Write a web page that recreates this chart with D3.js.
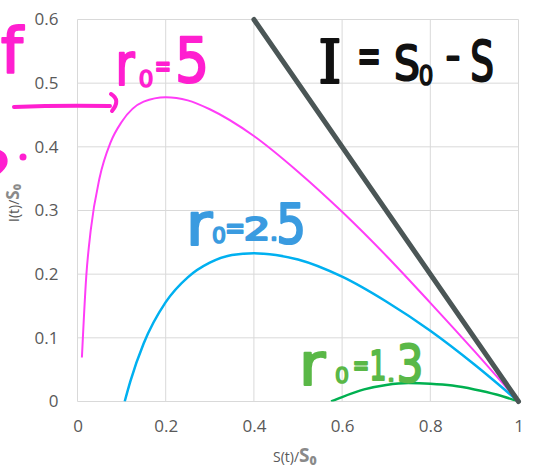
<!DOCTYPE html>
<html>
<head>
<meta charset="utf-8">
<script src="https://cdn.jsdelivr.net/npm/d3@7"></script>
<style>
  body { margin: 0; background: #fff; }
  svg { display: block; }
</style>
</head>
<body>
<div id="chart"></div>
<script>
/* Data: S/S0 against I/S0 */
const r0FiveS = [0.01, 0.02, 0.03, 0.05, 0.075, 0.1, 0.15, 0.2, 0.25, 0.3, 0.4, 0.5, 0.6, 0.7, 0.8, 0.9, 1.0];
const r0FiveI = [0.069, 0.198, 0.269, 0.351, 0.407, 0.439, 0.471, 0.478, 0.473, 0.459, 0.417, 0.361, 0.298, 0.229, 0.155, 0.079, 0];

const r0TwoHalfS = [0.107, 0.12, 0.15, 0.2, 0.25, 0.3, 0.35, 0.4, 0.45, 0.5, 0.6, 0.7, 0.8, 0.9, 1.0];
const r0TwoHalfI = [0, 0.032, 0.091, 0.156, 0.195, 0.218, 0.230, 0.233, 0.230, 0.223, 0.196, 0.157, 0.111, 0.058, 0];

const r0OneThreeS = [0.575, 0.6, 0.65, 0.7, 0.75, 0.8, 0.85, 0.9, 0.95, 1.0];
const r0OneThreeI = [0, 0.007, 0.019, 0.026, 0.029, 0.028, 0.025, 0.019, 0.011, 0];

const lineS = [0.4, 1.0];
const lineI = [0.6, 0];

const xTicks = [0, 0.2, 0.4, 0.6, 0.8, 1];
const yTicks = [0, 0.1, 0.2, 0.3, 0.4, 0.5, 0.6];

const series = [
  { s: r0FiveS, i: r0FiveI, color: '#ff3df7', width: 2 },
  { s: r0TwoHalfS, i: r0TwoHalfI, color: '#00b0f0', width: 2.5 },
  { s: r0OneThreeS, i: r0OneThreeI, color: '#00b050', width: 2.5 }
];

const W = 534, H = 470;
const margin = { top: 19.5, right: 15.5, bottom: 68.5, left: 77.5 };
const innerW = W - margin.left - margin.right;
const innerH = H - margin.top - margin.bottom;
const FONT = "'Open Sans', sans-serif";
const GREY = '#595959';
const PINK = '#ff1fd0';

const svg = d3.select('#chart').append('svg')
  .attr('width', W).attr('height', H);

const g = svg.append('g').attr('transform', `translate(${margin.left},${margin.top})`);

const x = d3.scaleLinear().domain([0, 1]).range([0, innerW]);
const y = d3.scaleLinear().domain([0, 0.6]).range([innerH, 0]);

// grid
g.append('g').selectAll('line').data(yTicks).join('line')
  .attr('x1', 0).attr('x2', innerW)
  .attr('y1', d => y(d)).attr('y2', d => y(d))
  .attr('stroke', '#d9d9d9').attr('stroke-width', 1);
g.append('g').selectAll('line').data(xTicks).join('line')
  .attr('y1', 0).attr('y2', innerH)
  .attr('x1', d => x(d)).attr('x2', d => x(d))
  .attr('stroke', '#d9d9d9').attr('stroke-width', 1);

// axes (labels only)
const xAxis = g.append('g').attr('transform', `translate(0,${innerH})`)
  .call(d3.axisBottom(x).tickValues(xTicks).tickSize(0).tickPadding(18).tickFormat(d3.format('')));
const yAxis = g.append('g')
  .call(d3.axisLeft(y).tickValues(yTicks).tickSize(0).tickPadding(19).tickFormat(d3.format('')));
[xAxis, yAxis].forEach(a => {
  a.select('.domain').remove();
  a.selectAll('text').style('font-family', FONT).style('font-size', '17px').attr('fill', GREY);
});

// curves
svg.append('clipPath').attr('id', 'plot')
  .append('rect').attr('x', -4).attr('y', -4).attr('width', innerW + 8).attr('height', innerH + 4);

const line = d3.line().x(d => x(d[0])).y(d => y(d[1])).curve(d3.curveMonotoneX);

series.forEach(sr => {
  g.append('path')
    .datum(sr.s.map((v, k) => [v, sr.i[k]]))
    .attr('clip-path', 'url(#plot)')
    .attr('fill', 'none')
    .attr('stroke', sr.color)
    .attr('stroke-width', sr.width)
    .attr('d', line);
});

g.append('path')
  .datum(lineS.map((v, k) => [v, lineI[k]]))
  .attr('fill', 'none')
  .attr('stroke', '#4b5656')
  .attr('stroke-width', 5)
  .attr('stroke-linecap', 'round')
  .attr('d', d3.line().x(d => x(d[0])).y(d => y(d[1])));

// axis titles
svg.append('text')
  .attr('transform', 'translate(19,222) rotate(-90)')
  .style('font-family', FONT).style('font-size', '14px').attr('fill', GREY)
  .text('I(t)/')
  .append('tspan').style('font-weight', 'bold').style('font-size', '17px').attr('fill', '#8a8a8a').text('S₀');

svg.append('text')
  .attr('x', 273).attr('y', 462)
  .style('font-family', FONT).style('font-size', '14px').attr('fill', GREY)
  .text('S(t)/')
  .append('tspan').style('font-weight', 'bold').style('font-size', '19px').attr('fill', '#8a8a8a').text('S₀');

// hand-written notes: one glyph per text, centred on cx, sitting on base
function note (glyphs, color) {
  const grp = svg.append('g').attr('class', 'note');
  glyphs.forEach(p => {
    grp.append('text')
      .attr('transform', `translate(${p.cx},${p.base}) scale(${p.sx || 1},1)`)
      .attr('text-anchor', 'middle')
      .style('font-family', p.serif ? "'DejaVu Serif', serif" : "'DejaVu Sans', sans-serif")
      .style('font-size', p.size + 'px')
      .attr('fill', color)
      .attr('stroke', color)
      .attr('stroke-width', p.sw || 2.2)
      .attr('stroke-linejoin', 'round')
      .text(p.t);
  });
}

note([
  { t: 'I', cx: 330, base: 83, size: 59, sx: 1.0, serif: true },
  { t: '=', cx: 369, base: 72, size: 48, sx: 0.6 },
  { t: 'S', cx: 407, base: 80, size: 48, sx: 0.85 },
  { t: '0', cx: 426, base: 85, size: 27, sx: 0.85, sw: 1.6 },
  { t: '-', cx: 453, base: 70, size: 40 },
  { t: 'S', cx: 482, base: 80, size: 55, sx: 0.68 }
], '#111');

note([
  { t: 'r', cx: 125, base: 85, size: 58, sx: 0.8 },
  { t: '0', cx: 146, base: 87, size: 23, sw: 1.6 },
  { t: '=', cx: 163, base: 76, size: 30, sx: 0.65 },
  { t: '5', cx: 192, base: 82, size: 63, sx: 0.85 }
], PINK);

note([
  { t: 'r', cx: 199, base: 245, size: 58, sx: 1.1 },
  { t: '0', cx: 219, base: 243, size: 22, sw: 1.6 },
  { t: '=', cx: 235, base: 238, size: 30, sx: 0.8 },
  { t: '2', cx: 257, base: 240, size: 32, sx: 1.3 },
  { t: '.', cx: 274, base: 240, size: 20, sw: 2.6 },
  { t: '5', cx: 291, base: 243, size: 55, sx: 0.85 }
], '#3a9be0');

note([
  { t: 'r', cx: 312, base: 385, size: 58, sx: 1.1 },
  { t: '0', cx: 342, base: 383, size: 22, sw: 1.6 },
  { t: '=', cx: 361, base: 375, size: 28, sx: 0.7 },
  { t: '1', cx: 378, base: 380, size: 41, sx: 0.65 },
  { t: '.', cx: 391, base: 381, size: 18, sw: 2.6 },
  { t: '3', cx: 410, base: 382, size: 51, sx: 0.82 }
], '#5ab847');

// pink scribbles on the left edge
note([{ t: 'f', cx: 12, base: 72, size: 62 }], PINK);
note([{ t: '?', cx: -6, base: 198, size: 64 }], PINK);
svg.append('circle').attr('cx', 23).attr('cy', 157).attr('r', 3.5).attr('fill', PINK);

// pink arrow
svg.append('path')
  .attr('d', 'M14,107 Q60,105 110,106 M111,94 Q121,100 112,111')
  .attr('fill', 'none')
  .attr('stroke', PINK)
  .attr('stroke-width', 4)
  .attr('stroke-linecap', 'round');
</script>
</body>
</html>
